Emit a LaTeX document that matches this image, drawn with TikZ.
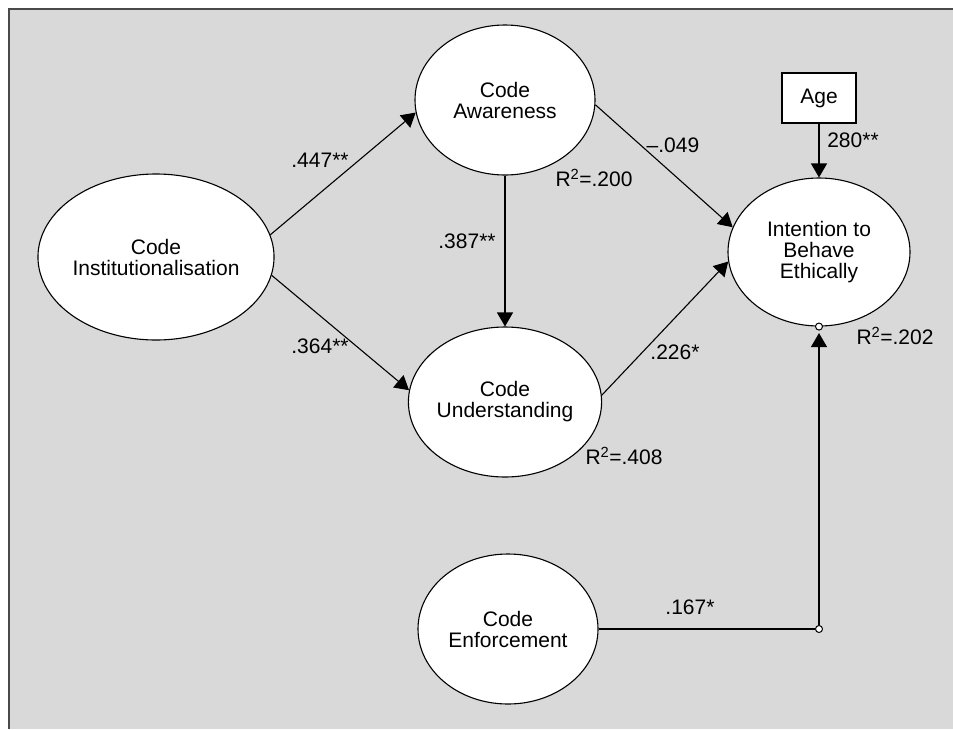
\documentclass[tikz,border=0pt]{standalone}
\usepackage{fontspec}
\setmainfont{Liberation Sans}
\usetikzlibrary{shapes.geometric, arrows.meta}

\definecolor{panel}{HTML}{D9D9D9}
\definecolor{rim}{HTML}{4A4A4A}

\begin{document}
\begin{tikzpicture}[x=1pt,y=-1pt,
    font=\fontsize{21}{21}\selectfont,
    construct/.style={ellipse,draw,fill=white,line width=1.1pt,inner sep=0pt,
        align=center,minimum width=180pt,minimum height=150pt},
    measure/.style={rectangle,draw,fill=white,line width=1.1pt,
        minimum width=74pt,minimum height=50pt},
    link/.style={-{Triangle[length=14pt,width=16pt]},line width=1.1pt},
    joint/.style={circle,draw,fill=white,line width=1pt,inner sep=0pt,minimum size=7pt},
    coef/.style={inner sep=0pt}]
\useasboundingbox (0,0) rectangle (953,729);

% Grey panel with its top and left rule
\fill[panel] (9,9) rectangle (953,729);
\draw[rim,line width=2pt] (9,729) -- (9,9) -- (953,9);

% Constructs
\node[construct,minimum width=184pt,minimum height=166pt] (inst) at (156,257) {Code\\Institutionalisation};
\node[construct] (aware) at (505,100) {Code\\Awareness};
\node[construct] (under) at (505,402) {Code\\Understanding};
\node[construct,minimum width=182pt,minimum height=148pt] (intent) at (819,252) {Intention to\\Behave\\Ethically};
\node[construct] (enforce) at (508,629) {Code\\Enforcement};
\node[measure] (age) at (819,98) {Age};

% Junctions of the enforcement path
\node[joint] (knee) at (819,629) {};
\node[joint] (foot) at (intent.south) {};

% Paths
\draw[link] (inst.11) -- (aware.188);
\draw[link] (inst.-9) -- (under.173);
\draw[link] (aware.south) -- (under.north);
\draw[link] (aware.-3) -- (intent.164);
\draw[link] (under.4) -- (intent.186);
\draw[link] (age.south) -- (intent.north);
\draw[line width=1.1pt] (enforce.east) -- (knee.west);
\draw[link,shorten >=2.5pt] (knee.north) -- (foot.south);

% Coefficients
\node[coef] (c1) at (320,160) {.447**};
\node[coef] (c2) at (320,346) {.364**};
\node[coef] (c3) at (467,241) {.387**};
\node[coef] (c4) at (673,145) {–.049};
\node[coef] (c5) at (853,140) {280**};
\node[coef] (c6) at (675,352) {.226*};
\node[coef] (c7) at (690,607) {.167*};

% Explained variance
\node[coef] (r1) at (594,178) {R\textsuperscript{2}=.200};
\node[coef] (r2) at (624,456) {R\textsuperscript{2}=.408};
\node[coef] (r3) at (895,336) {R\textsuperscript{2}=.202};
\end{tikzpicture}
\end{document}
